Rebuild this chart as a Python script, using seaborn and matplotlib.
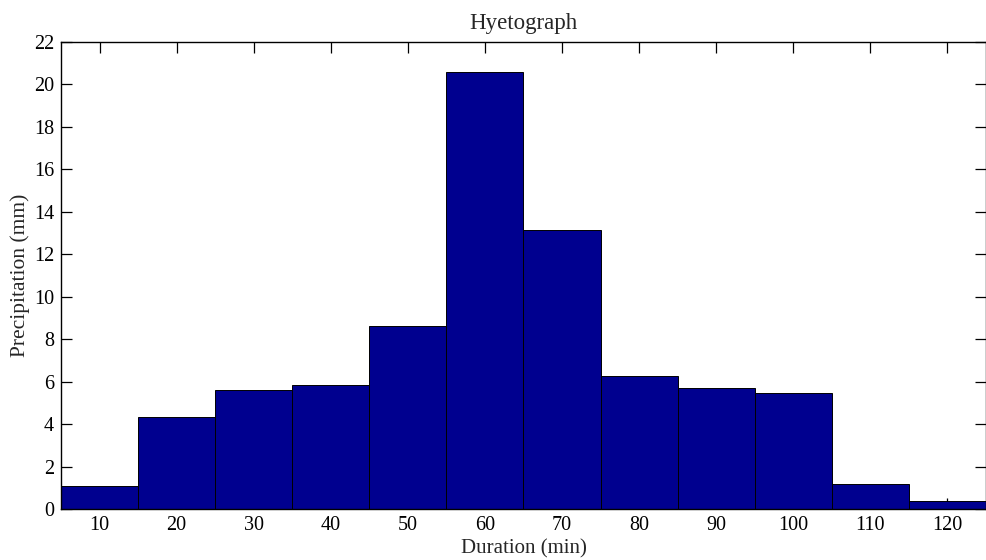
import numpy as np
import pandas as pd
import matplotlib
matplotlib.use("Agg")
import matplotlib.pyplot as plt
import seaborn as sns

duration = [10, 20, 30, 40, 50, 60, 70, 80, 90, 100, 110, 120]
precip = [1.10, 4.33, 5.59, 5.86, 8.63, 20.6, 13.16, 6.27, 5.71, 5.47, 1.17, 0.37]
yticks = list(range(0, 23, 2))

df = pd.DataFrame({"Duration": duration, "Precipitation": precip})

sns.set_style("ticks")
plt.rcParams['font.family'] = ['Liberation Serif', 'DejaVu Serif']

fig = plt.figure(figsize=(9.87, 5.6), dpi=100)
ax = fig.add_axes([61 / 987, 51 / 560, 925 / 987, 467 / 560])

sns.barplot(data=df, x="Duration", y="Precipitation", native_scale=True,
            width=1, color="#00008F", saturation=1,
            edgecolor="black", linewidth=0.7, ax=ax)

ax.set_xlim(5, 125)
ax.set_ylim(0, 22)
ax.set_xticks(duration)
ax.set_yticks(yticks)
ax.tick_params(direction="in", top=True, right=True, length=8, width=0.9,
               labelsize=14.5, colors="black", pad=5)
for s in ax.spines.values():
    s.set_visible(True)
    s.set_linewidth(1)
    s.set_color("black")

ax.set_title("Hyetograph", fontsize=16.5, pad=9)
ax.set_xlabel("Duration (min)", fontsize=15, labelpad=3)
ax.set_ylabel("Precipitation (mm)", fontsize=15.5, labelpad=3)

fig.savefig("out.png", dpi=100)
